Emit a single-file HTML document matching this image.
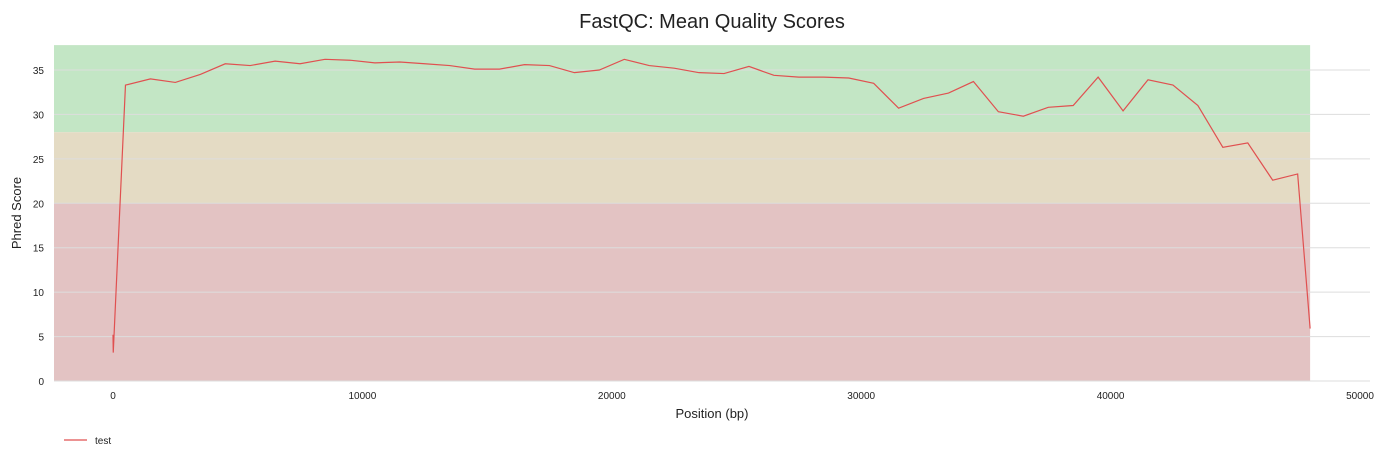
<!DOCTYPE html>
<html><head><meta charset="utf-8"><style>
body{margin:0;background:#fff;width:1388px;height:460px;overflow:hidden;font-family:"Liberation Sans",sans-serif}
</style></head><body>
<svg id="chart" width="1388" height="460" xmlns="http://www.w3.org/2000/svg" font-family="Liberation Sans, sans-serif">
<text x="712" y="28" text-anchor="middle" font-size="20" fill="#222">FastQC: Mean Quality Scores</text>
<g id="bands"></g><g id="grid"></g><g id="ticks"></g><g id="series"></g>
<text x="712" y="418" text-anchor="middle" font-size="13" fill="#222">Position (bp)</text>
<text transform="translate(21,213) rotate(-90)" text-anchor="middle" font-size="13" fill="#222">Phred Score</text>
<g>
<line x1="64" y1="440" x2="87" y2="440" stroke="#e05050" stroke-width="1.3"/>
<text x="95" y="444" font-size="10" fill="#222">test</text></g>
</svg>
<script>
const positions=[0,10,500,1500,2500,3500,4500,5500,6500,7500,8500,9500,10500,11500,12500,13500,14500,15500,16500,17500,18500,19500,20500,21500,22500,23500,24500,25500,26500,27500,28500,29500,30500,31500,32500,33500,34500,35500,36500,37500,38500,39500,40500,41500,42500,43500,44500,45500,46500,47500,48000];
const scores=[5.2,3.2,33.3,34,33.6,34.5,35.7,35.5,36,35.7,36.2,36.1,35.8,35.9,35.7,35.5,35.1,35.1,35.6,35.5,34.7,35,36.2,35.5,35.2,34.7,34.6,35.4,34.4,34.2,34.2,34.1,33.5,30.7,31.8,32.4,33.7,30.3,29.8,30.8,31,34.2,30.4,33.9,33.3,31,26.3,26.8,22.6,23.3,5.9];
const yTicks=[0,5,10,15,20,25,30,35];
const xTicks=[0,10000,20000,30000,40000,50000];
const NS="http://www.w3.org/2000/svg";
const X=v=>113+v*0.02494, Y=v=>381-v*8.886;
function mk(t,a,p){const e=document.createElementNS(NS,t);for(const k in a)e.setAttribute(k,a[k]);document.getElementById(p).appendChild(e);return e;}
const x0=54,x1=X(48000);
let b;
b=mk('rect',{x:x0,y:Y(37.8),width:x1-x0,height:Y(28)-Y(37.8),fill:'#c3e6c5'},'bands');

b=mk('rect',{x:x0,y:Y(28),width:x1-x0,height:Y(20)-Y(28),fill:'#e4dbc4'},'bands');

b=mk('rect',{x:x0,y:Y(20),width:x1-x0,height:Y(0)-Y(20),fill:'#e3c3c3'},'bands');

yTicks.forEach(v=>{
 const l=mk('line',{x1:x0,x2:1370,y1:Y(v),y2:Y(v),stroke:'#dddddd','stroke-width':1},'grid');
 
 const t=mk('text',{x:44,y:Y(v)+4,'text-anchor':'end','font-size':10,fill:'#222'},'ticks');t.textContent=v;
 
});
xTicks.forEach(v=>{
 const t=mk('text',{x:X(v),y:399,'text-anchor':'middle','font-size':10,fill:'#222'},'ticks');t.textContent=v;
 
});
const p=mk('polyline',{points:positions.map((x,i)=>X(x)+','+Y(scores[i])).join(' '),fill:'none',stroke:'#e05050','stroke-width':1.2},'series');

</script>
</body></html>
